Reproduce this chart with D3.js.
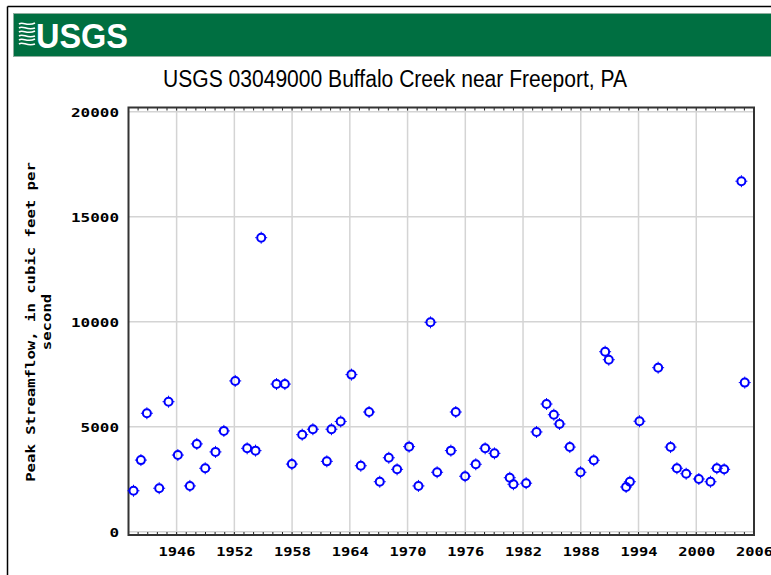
<!DOCTYPE html>
<html>
<head>
<meta charset="utf-8">
<script src="https://cdn.jsdelivr.net/npm/d3@7"></script>
<style>
  html, body { margin: 0; padding: 0; background: #fff; }
  svg { display: block; }
</style>
</head>
<body>
<svg id="chart" width="771" height="575"></svg>
<script>
// ---- data ----
const title = "USGS 03049000 Buffalo Creek near Freeport, PA";
const yTitleLines = ["Peak Streamflow, in cubic feet per", "second"];
const years = [1941.52, 1942.29, 1942.91, 1944.19, 1945.16, 1946.13, 1947.38, 1948.10, 1948.97, 1950.04,
  1950.91, 1952.09, 1953.33, 1954.20, 1954.79, 1956.38, 1957.25, 1957.98, 1959.05, 1960.16,
  1961.61, 1962.09, 1963.05, 1964.17, 1965.14, 1966.00, 1967.11, 1968.05, 1968.91, 1970.16,
  1971.13, 1972.38, 1973.07, 1974.50, 1975.01, 1975.98, 1977.09, 1978.06, 1979.03, 1980.62,
  1981.00, 1982.32, 1983.40, 1984.44, 1985.20, 1985.79, 1986.86, 1987.97, 1989.35, 1990.53,
  1990.91, 1992.71, 1993.10, 1994.10, 1996.04, 1997.33, 1997.99, 1998.95, 2000.27, 2001.48,
  2002.14, 2002.90, 2004.69, 2005.04];
const peaks = [1950, 3410, 5640, 2070, 6190, 3650, 2180, 4180, 3020, 3800,
  4800, 7180, 3970, 3860, 14000, 7030, 7030, 3220, 4620, 4880,
  3350, 4880, 5250, 7480, 3140, 5700, 2380, 3520, 2970, 4050,
  2180, 9970, 2830, 3860, 5700, 2640, 3210, 3970, 3730, 2570,
  2260, 2310, 4750, 6080, 5570, 5130, 4030, 2830, 3400, 8570,
  8190, 2130, 2380, 5260, 7810, 4030, 3020, 2760, 2510, 2380,
  3020, 2970, 16690, 7100];
const xTicks = [1946, 1952, 1958, 1964, 1970, 1976, 1982, 1988, 1994, 2000, 2006];
const yTicks = [0, 5000, 10000, 15000, 20000];
const xDomain = [1941, 2006];
const yDomain = [0, 20000];

// ---- layout ----
const svg = d3.select("#chart");
const plot = { left: 128.5, right: 754, top: 107.5, bottom: 535 };
const x = d3.scaleLinear().domain(xDomain).range([plot.left, plot.right]);
const y = d3.scaleLinear().domain(yDomain).range([531.7, 111.7]);
const mono = "'DejaVu Sans Mono', 'Liberation Mono', monospace";

// outer page frame
svg.append("line").attr("x1", 7.5).attr("x2", 7.5).attr("y1", 6.5).attr("y2", 575)
  .attr("stroke", "#000").attr("stroke-width", 1.5);
svg.append("line").attr("x1", 7.5).attr("x2", 771).attr("y1", 6.5).attr("y2", 6.5)
  .attr("stroke", "#000").attr("stroke-width", 1.5);

// header band
svg.append("rect").attr("x", 13.5).attr("y", 13.5).attr("width", 760).attr("height", 43)
  .attr("fill", "#006f41").attr("stroke", "#8fae9f").attr("stroke-width", 1);

// logo waves
const wave = svg.append("g").attr("fill", "none").attr("stroke", "#fff").attr("stroke-width", 1.6);
[0, 1, 2, 3, 4, 5].forEach(i => {
  const yy = 24 + i * 4;
  wave.append("path").attr("d", `M19,${yy} C23,${yy - 3} 27,${yy + 3} 35,${yy - 1 + (i % 2)}`);
});
svg.append("text").attr("x", 36).attr("y", 47.5)
  .attr("font-family", "'Liberation Sans', Arial, sans-serif").attr("font-weight", "bold")
  .attr("font-size", 35).attr("fill", "#fff")
  .attr("textLength", 92).attr("lengthAdjust", "spacingAndGlyphs").text("USGS");

// title
svg.append("text").attr("x", 163).attr("y", 87)
  .attr("font-family", "'Liberation Sans', Arial, sans-serif")
  .attr("font-size", 23).attr("fill", "#000")
  .attr("textLength", 464).attr("lengthAdjust", "spacingAndGlyphs").text(title);

// gridlines
const grid = svg.append("g").attr("stroke", "#d4d4d4").attr("stroke-width", 1.5);
grid.selectAll("line.v").data(xTicks.filter(t => t < xDomain[1])).enter().append("line")
  .attr("x1", d => x(d)).attr("x2", d => x(d)).attr("y1", plot.top).attr("y2", plot.bottom);
grid.selectAll("line.h").data(yTicks).enter().append("line")
  .attr("x1", plot.left).attr("x2", plot.right).attr("y1", d => y(d)).attr("y2", d => y(d));

// minor year ticks on top and bottom frame
const minor = d3.range(xDomain[0] + 1, xDomain[1], 1);
const mt = svg.append("g").attr("stroke", "#222").attr("stroke-width", 1);
mt.selectAll("line.b").data(minor).enter().append("line")
  .attr("x1", d => x(d)).attr("x2", d => x(d)).attr("y1", plot.bottom - 3).attr("y2", plot.bottom);
mt.selectAll("line.t").data(minor).enter().append("line")
  .attr("x1", d => x(d)).attr("x2", d => x(d)).attr("y1", plot.top).attr("y2", plot.top + 3);

// frame
svg.append("rect").attr("x", plot.left).attr("y", plot.top)
  .attr("width", plot.right - plot.left).attr("height", plot.bottom - plot.top)
  .attr("fill", "none").attr("stroke", "#333").attr("stroke-width", 2);

// x axis labels
const xAxis = d3.axisBottom(x).tickValues(xTicks).tickSize(0).tickPadding(0).tickFormat(d3.format("d"));
const gx = svg.append("g").attr("transform", `translate(0,${plot.bottom + 12})`).call(xAxis);
gx.select(".domain").remove();
gx.selectAll("text").attr("font-family", mono).attr("font-weight", "bold").attr("font-size", 13)
  .attr("fill", "#000").attr("textLength", 37).attr("lengthAdjust", "spacingAndGlyphs")
  .attr("dy", "0.71em");

// y axis labels
const yAxis = d3.axisLeft(y).tickValues(yTicks).tickSize(0).tickPadding(0).tickFormat(d3.format("d"));
const gy = svg.append("g").attr("transform", `translate(119,0)`).call(yAxis);
gy.select(".domain").remove();
gy.selectAll("text").attr("font-family", mono).attr("font-weight", "bold").attr("font-size", 13)
  .attr("fill", "#000").attr("textLength", d => String(d).length * 9.6)
  .attr("lengthAdjust", "spacingAndGlyphs").attr("dy", "0.36em");

// y title
const yt = svg.append("g").attr("transform", "translate(0,322) rotate(-90)");
yTitleLines.forEach((line, i) => {
  yt.append("text").attr("x", 0).attr("y", 35 + i * 16).attr("text-anchor", "middle")
    .attr("font-family", mono).attr("font-weight", "bold").attr("font-size", 13).attr("fill", "#000")
    .attr("textLength", line.length * 9.4).attr("lengthAdjust", "spacingAndGlyphs").text(line);
});

// points
const data = years.map((yr, i) => ({ yr, v: peaks[i] }));
const pts = svg.append("g").selectAll("g.pt").data(data).enter().append("g")
  .attr("transform", d => `translate(${x(d.yr)},${y(d.v)})`);
pts.append("circle").attr("r", 4).attr("fill", "none").attr("stroke", "#0000ff").attr("stroke-width", 2);
pts.append("path").attr("d", "M0,-6V-4.5M0,6V4.5M-6,0H-4.5M6,0H4.5")
  .attr("stroke", "#0000ff").attr("stroke-width", 1);
</script>
</body>
</html>
